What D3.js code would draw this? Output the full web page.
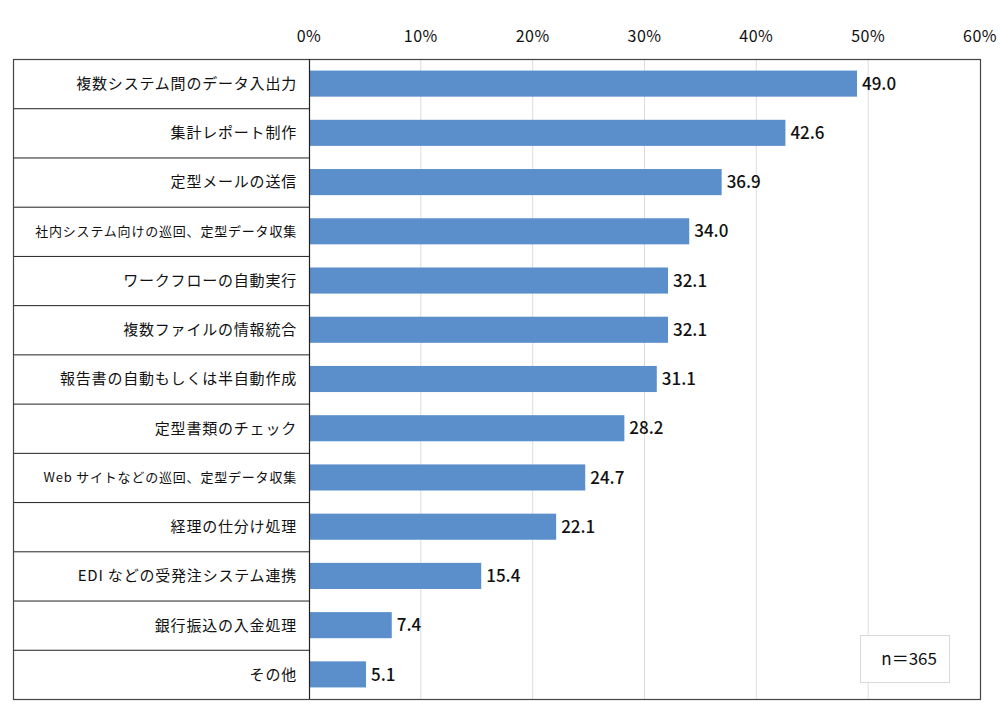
<!DOCTYPE html>
<html>
<head>
<meta charset="utf-8">
<script src="https://cdn.jsdelivr.net/npm/d3@7"></script>
<style>
  body { margin: 0; background: #fff; }
  svg { display: block; font-family: "Noto Sans CJK JP", "Noto Sans", sans-serif; }
</style>
</head>
<body>
<script>
// data
var categories = [
  "複数システム間のデータ入出力",
  "集計レポート制作",
  "定型メールの送信",
  "社内システム向けの巡回、定型データ収集",
  "ワークフローの自動実行",
  "複数ファイルの情報統合",
  "報告書の自動もしくは半自動作成",
  "定型書類のチェック",
  "Web サイトなどの巡回、定型データ収集",
  "経理の仕分け処理",
  "EDI などの受発注システム連携",
  "銀行振込の入金処理",
  "その他"
];
var values = [49.0, 42.6, 36.9, 34.0, 32.1, 32.1, 31.1, 28.2, 24.7, 22.1, 15.4, 7.4, 5.1];
var ticks = [0, 10, 20, 30, 40, 50, 60];
var note = "n＝365";

var width = 1000, height = 720;
// note: "top" clashes with window.top, so prefixed names
var boxL = 13, split = 309, boxR = 980, boxT = 59, boxB = 699;

var svg = d3.select("body").append("svg")
    .attr("width", width)
    .attr("height", height);

var x = d3.scaleLinear().domain([0, 60]).range([split, boxR]);
var rows = d3.scaleBand().domain(categories).range([boxT, boxB]).padding(0);
var y = d3.scaleBand().domain(categories).range([boxT, boxB])
    .paddingInner(0.47).paddingOuter(0.235);

// gridlines
svg.append("g").selectAll("line")
  .data(ticks.slice(1, -1))
  .enter().append("line")
    .attr("x1", function(d) { return x(d); })
    .attr("x2", function(d) { return x(d); })
    .attr("y1", boxT).attr("y2", boxB)
    .attr("stroke", "#dcdcdc").attr("stroke-width", 1);

// top axis labels
svg.append("g").selectAll("text")
  .data(ticks)
  .enter().append("text")
    .attr("x", function(d) { return x(d); })
    .attr("y", 42)
    .attr("text-anchor", "middle")
    .attr("font-size", 16)
    .attr("letter-spacing", 0.5)
    .attr("fill", "#111")
    .text(function(d) { return d + "%"; });

// bars
svg.append("g").selectAll("rect")
  .data(values)
  .enter().append("rect")
    .attr("x", x(0))
    .attr("y", function(d, i) { return y(categories[i]); })
    .attr("width", function(d) { return x(d) - x(0); })
    .attr("height", y.bandwidth())
    .attr("fill", "#5b8fcc");

// value labels
svg.append("g").selectAll("text")
  .data(values)
  .enter().append("text")
    .attr("x", function(d) { return x(d) + 5; })
    .attr("y", function(d, i) { return y(categories[i]) + y.bandwidth() / 2; })
    .attr("dy", "0.36em")
    .attr("font-size", 17)
    .attr("font-weight", 500)
    .attr("fill", "#111")
    .text(function(d) { return d.toFixed(1); });

// row separators in label column
svg.append("g").selectAll("line")
  .data(categories.slice(1))
  .enter().append("line")
    .attr("x1", boxL).attr("x2", split)
    .attr("y1", function(d) { return rows(d) + 0.5; })
    .attr("y2", function(d) { return rows(d) + 0.5; })
    .attr("stroke", "#222").attr("stroke-width", 1);

// category labels
svg.append("g").selectAll("text")
  .data(categories)
  .enter().append("text")
    .attr("x", 297)
    .attr("y", function(d) { return rows(d) + rows.bandwidth() / 2; })
    .attr("dy", "0.36em")
    .attr("text-anchor", "end")
    .attr("font-size", function(d) { return d.length > 16 ? 13 : 15; })
    .attr("letter-spacing", 0.8)
    .attr("fill", "#111")
    .text(function(d) { return d; });

// borders
svg.append("rect")
    .attr("x", boxL + 0.5).attr("y", boxT + 0.5)
    .attr("width", boxR - boxL).attr("height", boxB - boxT)
    .attr("fill", "none").attr("stroke", "#444").attr("stroke-width", 1.2);
svg.append("line")
    .attr("x1", split + 0.5).attr("x2", split + 0.5)
    .attr("y1", boxT).attr("y2", boxB)
    .attr("stroke", "#222").attr("stroke-width", 1.2);

// n box
svg.append("rect")
    .attr("x", 860.5).attr("y", 635.5)
    .attr("width", 89).attr("height", 47)
    .attr("fill", "#fff").attr("stroke", "#d9d9d9");
svg.append("text")
    .attr("x", 937).attr("y", 659)
    .attr("dy", "0.36em")
    .attr("text-anchor", "end")
    .attr("font-size", 17)
    .attr("fill", "#111")
    .text(note);
</script>
</body>
</html>
